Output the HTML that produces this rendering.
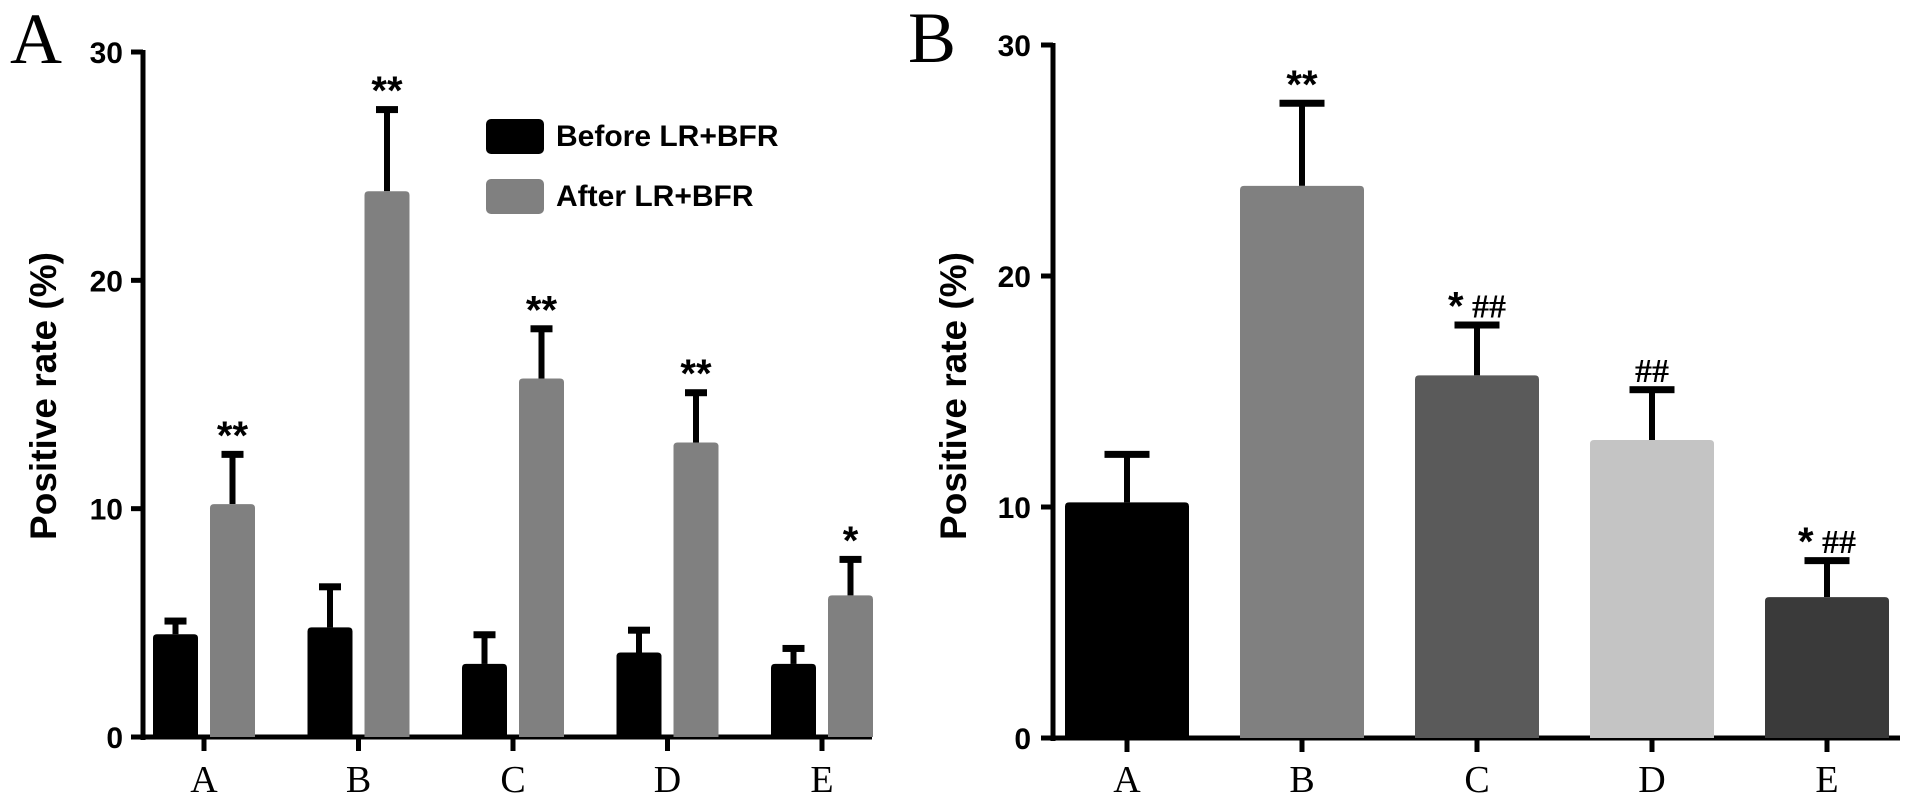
<!DOCTYPE html>
<html><head><meta charset="utf-8"><style>
html,body{margin:0;padding:0;background:#fff;}
svg{display:block;}
.tk{font-family:"Liberation Sans",sans-serif;font-weight:bold;font-size:30px;}
.xl{font-family:"Liberation Serif",serif;font-size:38px;}
.yt{font-family:"Liberation Sans",sans-serif;font-weight:bold;font-size:37px;}
.pl{font-family:"Liberation Serif",serif;font-size:72px;}
.st{font-family:"Liberation Sans",sans-serif;font-weight:bold;font-size:40px;}
.hs{font-family:"Liberation Serif",serif;font-weight:bold;font-size:34px;}
.lg{font-family:"Liberation Sans",sans-serif;font-weight:bold;font-size:30px;}
</style></head><body>
<svg id="c" width="1913" height="806" viewBox="0 0 1913 806" xmlns="http://www.w3.org/2000/svg"></svg>
<script>
const categories=["A","B","C","D","E"];
const yTicks=[0,10,20,30];
const beforeVals=[4.5,4.8,3.2,3.7,3.2];
const beforeErr=[0.6,1.8,1.3,1.0,0.7];
const afterVals=[10.2,23.9,15.7,12.9,6.2];
const afterErr=[2.2,3.6,2.2,2.2,1.6];
const afterSig=["**","**","**","**","*"];
const bVals=[10.2,23.9,15.7,12.9,6.1];
const bErr=[2.1,3.6,2.2,2.2,1.6];
const bStar=["","**","*","","*"];
const bHash=["","","##","##","##"];
const bColors=["#000000","#808080","#5a5a5a","#c4c4c4","#3a3a3a"];

const NS="http://www.w3.org/2000/svg";
const svg=document.getElementById('c');
function mk(tag,attrs,parent,text){const e=document.createElementNS(NS,tag);for(const k in attrs)e.setAttribute(k,attrs[k]);if(text!==undefined)e.textContent=text;(parent||svg).appendChild(e);return e;}

function bar(g,x,w,v,err,fill,yS,capW){
  const top=yS(v),base=yS(0);
  const et=yS(v+err);
  mk('line',{x1:x,y1:top,x2:x,y2:et,stroke:'#000','stroke-width':6},g);
  const cap=mk('rect',{x:x-capW/2,y:et-3,width:capW,height:7,fill:'#000'},g);
  
  
  const r=mk('path',{d:`M${x-w/2},${base} L${x-w/2},${top+4} Q${x-w/2},${top} ${x-w/2+4},${top} L${x+w/2-4},${top} Q${x+w/2},${top} ${x+w/2},${top+4} L${x+w/2},${base} Z`,fill:fill},g);
  
  
  return et;
}

// ---------- Panel A ----------
const gA=mk('g',{});


const A={x0:143,x1:872,y0:737,yTop:52};
const ySA=v=>A.y0-(A.y0-A.yTop)*v/30;
const xSA=i=>204+i*154.5;
let t=mk('text',{x:10,y:63,class:'pl'},gA,'A');


let l=mk('line',{x1:A.x0,y1:A.yTop-2,x2:A.x0,y2:A.y0+3,stroke:'#000','stroke-width':5},gA);


l=mk('line',{x1:A.x0-3,y1:A.y0,x2:A.x1,y2:A.y0,stroke:'#000','stroke-width':5},gA);


yTicks.forEach(v=>{
  const y=ySA(v);
  mk('line',{x1:A.x0-12,y1:y,x2:A.x0,y2:y,stroke:'#000','stroke-width':5},gA);
  const tt=mk('text',{x:A.x0-20,y:y+11,'text-anchor':'end',class:'tk'},gA,String(v));
  
  
});
categories.forEach((c,i)=>{
  const cx=xSA(i);
  mk('line',{x1:cx,y1:A.y0,x2:cx,y2:A.y0+14,stroke:'#000','stroke-width':5},gA);
  const xl=mk('text',{x:cx,y:792,'text-anchor':'middle',class:'xl'},gA,c);
  
  
  bar(gA,cx-28.5,45,beforeVals[i],beforeErr[i],'#000',ySA,22);
  const et=bar(gA,cx+28.5,45,afterVals[i],afterErr[i],'#808080',ySA,22);
  const s=mk('text',{x:cx+28.5,y:et-5,'text-anchor':'middle',class:'st'},gA,afterSig[i]);
  
  
});
t=mk('text',{x:0,y:0,class:'yt','text-anchor':'middle',transform:'translate(56,396) rotate(-90)'},gA,'Positive rate (%)');


const lg=mk('g',{},gA);


let r=mk('rect',{x:486,y:119,width:58,height:35,rx:5,fill:'#000'},lg);


t=mk('text',{x:556,y:146,class:'lg'},lg,'Before LR+BFR');


r=mk('rect',{x:486,y:179,width:58,height:35,rx:5,fill:'#808080'},lg);


t=mk('text',{x:556,y:206,class:'lg'},lg,'After LR+BFR');



// ---------- Panel B ----------
const gB=mk('g',{});


const B={x0:1053,x1:1900,y0:738,yTop:45};
const ySB=v=>B.y0-(B.y0-B.yTop)*v/30;
const xSB=i=>1127+i*175;
t=mk('text',{x:908,y:62,class:'pl'},gB,'B');


l=mk('line',{x1:B.x0,y1:B.yTop-2,x2:B.x0,y2:B.y0+3,stroke:'#000','stroke-width':5},gB);


l=mk('line',{x1:B.x0-3,y1:B.y0,x2:B.x1,y2:B.y0,stroke:'#000','stroke-width':5},gB);


yTicks.forEach(v=>{
  const y=ySB(v);
  mk('line',{x1:B.x0-12,y1:y,x2:B.x0,y2:y,stroke:'#000','stroke-width':5},gB);
  const tt=mk('text',{x:B.x0-22,y:y+11,'text-anchor':'end',class:'tk'},gB,String(v));
  
  
});
categories.forEach((c,i)=>{
  const cx=xSB(i);
  mk('line',{x1:cx,y1:B.y0,x2:cx,y2:B.y0+14,stroke:'#000','stroke-width':5},gB);
  const xl=mk('text',{x:cx,y:792,'text-anchor':'middle',class:'xl'},gB,c);
  
  
  const et=bar(gB,cx,124,bVals[i],bErr[i],bColors[i],ySB,45);
  if(bStar[i]||bHash[i]){
    const s=mk('text',{x:cx,y:et-7,'text-anchor':'middle'},gB);
    
    
    if(bStar[i]){mk('tspan',{class:'st',dy:2},s,bStar[i]);}
    if(bStar[i]&&bHash[i]){mk('tspan',{class:'hs',dy:-2},s,' ');}
    if(bHash[i]){mk('tspan',{class:'hs'},s,bHash[i]);}
  }
});
t=mk('text',{x:0,y:0,class:'yt','text-anchor':'middle',transform:'translate(966,396) rotate(-90)'},gB,'Positive rate (%)');


</script>
</body></html>
